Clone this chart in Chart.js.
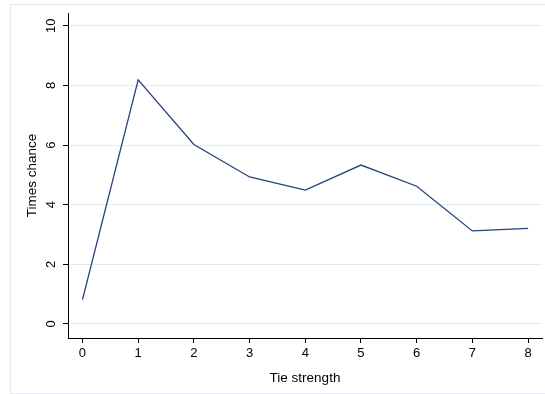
<!DOCTYPE html>
<html>
<head>
<meta charset="utf-8">
<script src="https://cdn.jsdelivr.net/npm/chart.js@4"></script>
<style>
  html, body { margin: 0; padding: 0; background: #ffffff; }
  #wrap { position: relative; width: 545px; height: 394px; overflow: hidden; }
  #frame { position: absolute; left: 10px; top: 4px; width: 560px; height: 388px; border: 1px solid #e6eaf1; }
  canvas { position: absolute; left: 0; top: 0; }
</style>
</head>
<body>
<div id="wrap">
  <div id="frame"></div>
  <canvas id="c" width="545" height="394"></canvas>
</div>
<script>
const tieStrength = [0, 1, 2, 3, 4, 5, 6, 7, 8];
const timesChance = [0.82, 8.19, 6.02, 4.93, 4.49, 5.33, 4.62, 3.12, 3.21];
const xTicks = [0, 1, 2, 3, 4, 5, 6, 7, 8];
const yTicks = [0, 2, 4, 6, 8, 10];

const FONT = "'Liberation Sans', Arial, sans-serif";

new Chart(document.getElementById('c'), {
  type: 'line',
  data: {
    datasets: [{
      data: tieStrength.map((x, i) => ({ x: x, y: timesChance[i] })),
      borderColor: '#22427a',
      borderWidth: 1.3,
      pointRadius: 0,
      tension: 0,
      fill: false
    }]
  },
  options: {
    responsive: false,
    animation: false,
    layout: { padding: { left: 0, top: 13, right: 3, bottom: 0 } },
    plugins: { legend: { display: false }, tooltip: { enabled: false } },
    scales: {
      x: {
        type: 'linear',
        min: -0.26,
        max: 8.25,
        afterBuildTicks: s => { s.ticks = xTicks.map(v => ({ value: v })); },
        afterFit: s => { s.height = 56; },
        grid: { drawOnChartArea: false, drawTicks: true, tickLength: 5, tickColor: '#000000', tickWidth: 1 },
        border: { display: true, color: '#000000', width: 1 },
        ticks: { color: '#000000', font: { family: FONT, size: 13 }, padding: 3, maxRotation: 0, minRotation: 0, callback: v => String(v) },
        title: { display: true, text: 'Tie strength', color: '#000000', font: { family: FONT, size: 13.5 }, padding: { top: 0, bottom: 8 } }
      },
      y: {
        type: 'linear',
        min: -0.47,
        max: 10.43,
        afterBuildTicks: s => { s.ticks = yTicks.map(v => ({ value: v })); },
        afterFit: s => { s.width = 68; },
        grid: { color: '#e3eaf3', lineWidth: 1, drawTicks: true, tickLength: 5, tickColor: '#000000', tickWidth: 1 },
        border: { display: true, color: '#000000', width: 1 },
        ticks: { color: '#000000', font: { family: FONT, size: 13 }, padding: 4, minRotation: 90, maxRotation: 90, crossAlign: 'center', callback: v => String(v) },
        title: { display: true, text: 'Times chance', color: '#000000', font: { family: FONT, size: 13.5 }, padding: { top: 24, bottom: 0 } }
      }
    }
  }
});
</script>
</body>
</html>
